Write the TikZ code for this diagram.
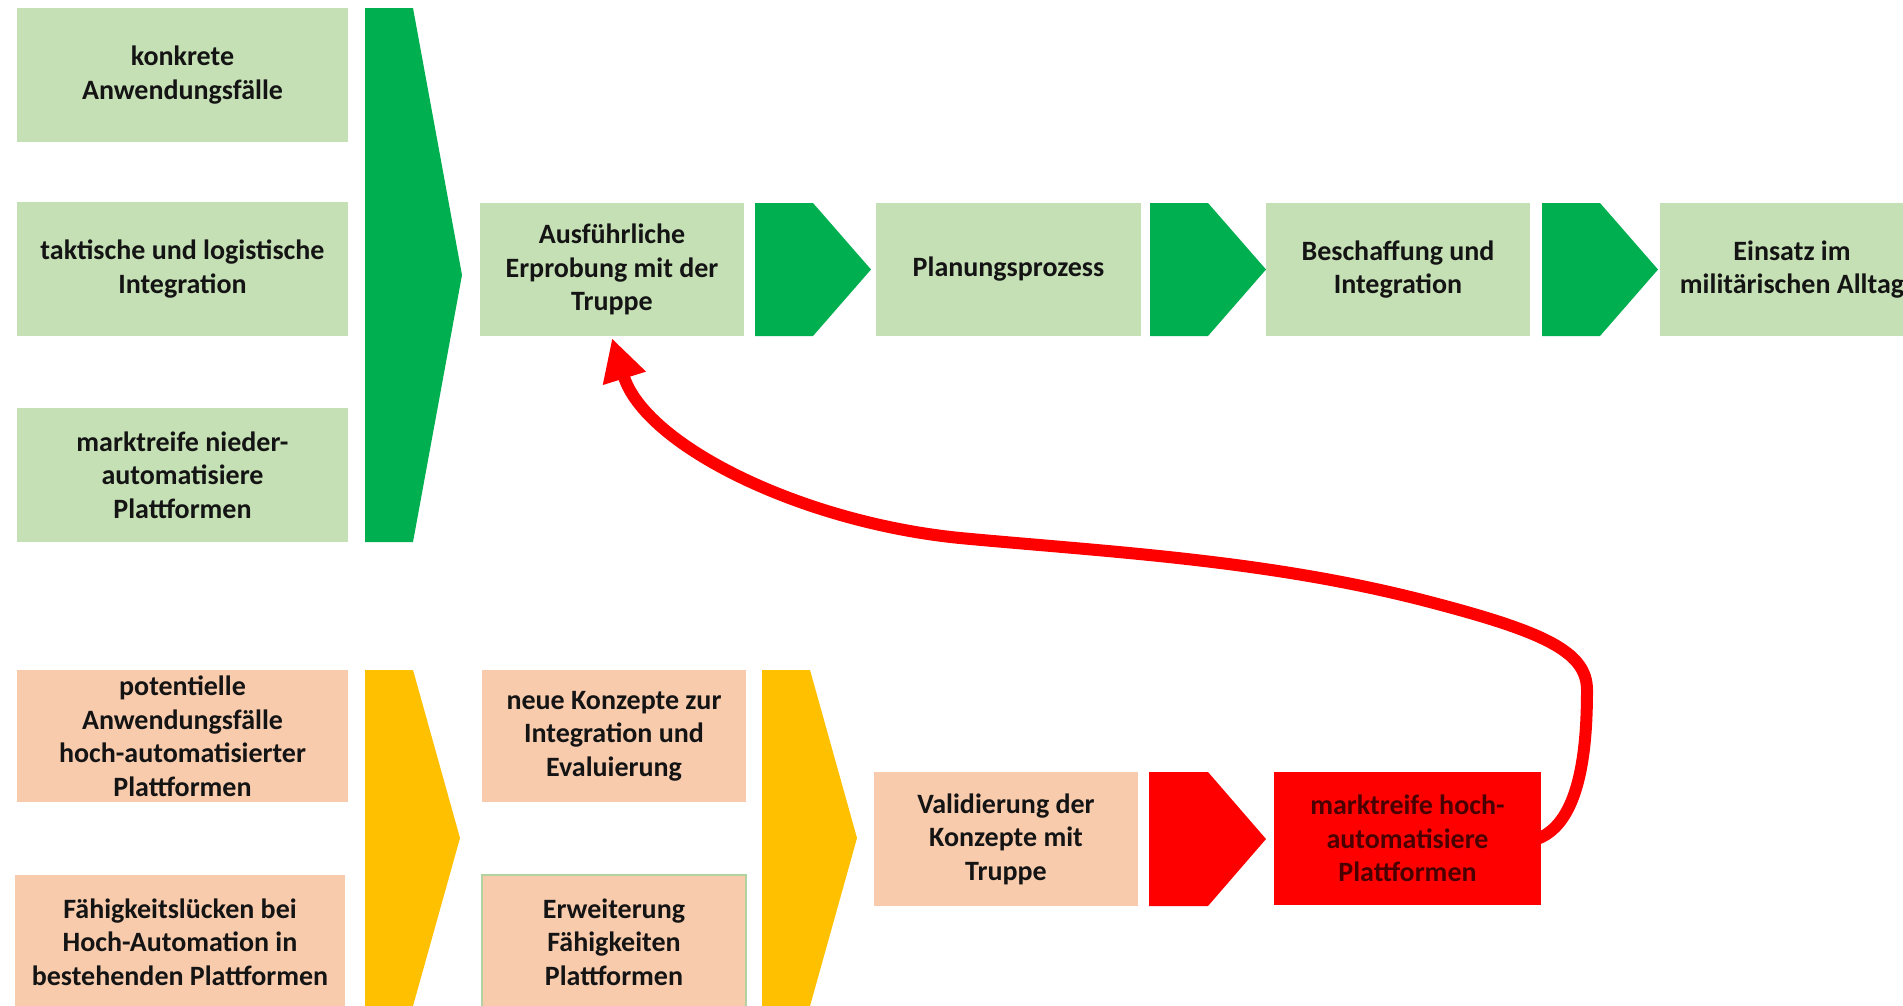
\documentclass[tikz,border=0pt]{standalone}
\usepackage{fontspec}
\setmainfont{Carlito}
\usetikzlibrary{arrows.meta}
\definecolor{lgreen}{RGB}{197,224,180}
\definecolor{dgreen}{RGB}{0,176,80}
\definecolor{peach}{RGB}{248,203,173}
\definecolor{ygold}{RGB}{255,192,0}
\definecolor{pred}{RGB}{255,0,0}
\definecolor{txt}{RGB}{20,20,20}
\definecolor{dredtxt}{RGB}{75,0,0}
\definecolor{erwborder}{RGB}{178,210,160}
\newcommand\boxfont{\fontsize{28}{33.5}\selectfont\bfseries}
\begin{document}
\begin{tikzpicture}[x=1pt,y=-1pt,
  boxbase/.style={inner sep=0pt, align=center, font=\boxfont, text=txt},
  gbox/.style={boxbase, fill=lgreen},
  pbox/.style={boxbase, fill=peach},
  rbox/.style={boxbase, fill=pred, text=dredtxt},
  gchev/.style={fill=dgreen},
  ychev/.style={fill=ygold},
  rchev/.style={fill=pred},
  redarrow/.style={draw=pred, line width=12pt, line cap=round,
    -{Triangle[length=42pt, width=42pt]}}
]
\useasboundingbox (0,0) rectangle (1903,1005);
\clip (0,0) rectangle (1903,1005);
\fill[white] (0,0) rectangle (1903,1005);

% top-left column
\node[gbox, minimum width=331pt, minimum height=134pt] (b1) at (182.5,75) {konkrete\\Anwendungsfälle};
\node[gbox, minimum width=331pt, minimum height=134pt] (b2) at (182.5,269) {taktische und logistische\\Integration};
\node[gbox, minimum width=331pt, minimum height=134pt] (b3) at (182.5,475) {marktreife nieder-\\automatisiere\\Plattformen};

% big green chevron
\fill[gchev] (365,8) -- (413,8) -- (462,275) -- (413,542) -- (365,542) -- cycle;

% top row
\node[gbox, minimum width=264pt, minimum height=133pt] (a) at (612,269.5) {Ausführliche\\Erprobung mit der\\Truppe};
\fill[gchev] (755,203) -- (813,203) -- (871,269.5) -- (813,336) -- (755,336) -- cycle;
\node[gbox, minimum width=265pt, minimum height=133pt] (p) at (1008.5,269.5) {Planungsprozess};
\fill[gchev] (1150,203) -- (1208,203) -- (1266,269.5) -- (1208,336) -- (1150,336) -- cycle;
\node[gbox, minimum width=264pt, minimum height=133pt] (be) at (1398,269.5) {Beschaffung und\\Integration};
\fill[gchev] (1542,203) -- (1600,203) -- (1658,269.5) -- (1600,336) -- (1542,336) -- cycle;
\node[gbox, minimum width=265pt, minimum height=133pt] (e) at (1792,269.5) {Einsatz im\\militärischen Alltag};

% bottom-left column
\node[pbox, minimum width=331pt, minimum height=132pt] (pot) at (182.5,736) {potentielle\\Anwendungsfälle\\hoch-automatisierter\\Plattformen};
\node[pbox, minimum width=330pt, minimum height=134pt] (fae) at (180,942) {Fähigkeitslücken bei\\Hoch-Automation in\\bestehenden Plattformen};
\fill[ychev] (365,670) -- (413,670) -- (460,838) -- (413,1006) -- (365,1006) -- cycle;

% second column
\node[pbox, minimum width=264pt, minimum height=132pt] (nk) at (614,736) {neue Konzepte zur\\Integration und\\Evaluierung};
\node[pbox, draw=erwborder, line width=1.2pt, minimum width=264pt, minimum height=134pt] (erw) at (614,942) {Erweiterung\\Fähigkeiten\\Plattformen};
\fill[ychev] (762,670) -- (810,670) -- (857,838) -- (810,1006) -- (762,1006) -- cycle;

% validation row
\node[pbox, minimum width=264pt, minimum height=134pt] (v) at (1006,839) {Validierung der\\Konzepte mit\\Truppe};
\fill[rchev] (1149,772) -- (1208,772) -- (1266,839) -- (1208,906) -- (1149,906) -- cycle;
\node[rbox, minimum width=267pt, minimum height=133pt] (m) at (1407.5,838.5) {marktreife hoch-\\automatisiere\\Plattformen};

% red feedback arrow
\draw[redarrow] ([xshift=-3pt]m.east) .. controls (1580,822) and (1587,750) .. (1587,690)
  .. controls (1587,652) and (1545,632) .. (1430,602)
  .. controls (1270,560) and (1110,552) .. (960,538)
  .. controls (800,522) and (645,445) .. ([yshift=-2pt]a.south);
\end{tikzpicture}
\end{document}
